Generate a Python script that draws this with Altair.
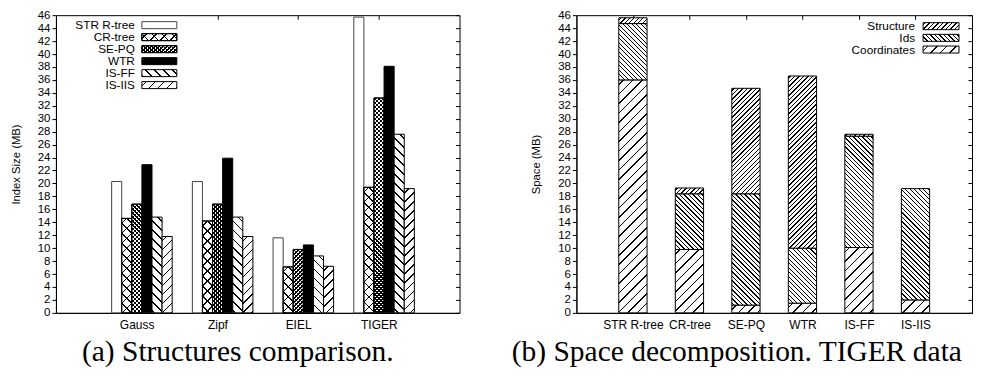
import altair as alt
import pandas as pd
import numpy as np

# ---------------- data: (a) structures comparison ----------------
datasets = ["Gauss", "Zipf", "EIEL", "TIGER"]
structures = ["STR R-tree", "CR-tree", "SE-PQ", "WTR", "IS-FF", "IS-IIS"]
size_str_rtree = [20.3, 20.3, 11.6, 45.7]
size_cr_tree = [14.6, 14.2, 7.1, 19.4]
size_se_pq = [16.8, 16.8, 9.8, 33.2]
size_wtr = [22.9, 23.9, 10.5, 38.1]
size_is_ff = [14.8, 14.8, 8.8, 27.6]
size_is_iis = [11.8, 11.8, 7.2, 19.2]

# ---------------- data: (b) space decomposition (TIGER) ----------------
b_structures = ["STR R-tree", "CR-tree", "SE-PQ", "WTR", "IS-FF", "IS-IIS"]
components = ["Coordinates", "Ids", "Structure"]
space_coordinates = [36.0, 9.8, 1.2, 1.5, 10.1, 2.0]
space_ids = [8.7, 8.6, 17.2, 8.5, 17.2, 17.2]
space_structure = [0.9, 0.9, 16.3, 26.6, 0.3, 0.0]

y_ticks = list(range(0, 47, 2))
caption_a = "(a) Structures comparison."
caption_b = "(b) Space decomposition. TIGER dataset."

# ---------------- layout / style ----------------
FONT = "Liberation Sans"
SERIF = "Liberation Serif"
AW, AH = 404, 298
BW, BH = 396, 298
YMAX = 46
BAR_A, OFF_A = 0.125, -0.31
BAR_B = 0.5
CAP_SIZE = 29.5
CAP_Y = 346


def grad(W, H, P, sw, direction, fg="black", bg="white"):
    """Linear gradient emulating 45-degree hatch lines inside a W x H box."""
    S = W + H
    stops = [(0.0, bg)]
    s = P / 2 - P * np.ceil((P / 2 + sw / 2) / P)
    while s - sw / 2 < S:
        a = max(s - sw / 2, 0.0) / S
        b = min(s + sw / 2, S) / S
        if b > 0 and a < 1:
            stops += [(a, bg), (a, fg), (b, fg), (b, bg)]
        s += P
    stops.append((1.0, bg))
    k = S / (W * W + H * H)
    if direction == "fwd":
        x1, y1, x2, y2 = 0.0, 0.0, k * W, k * H
    else:
        x1, y1, x2, y2 = 1.0, 0.0, 1.0 - k * W, k * H
    return {"gradient": "linear", "x1": round(x1, 6), "y1": round(y1, 6),
            "x2": round(x2, 6), "y2": round(y2, 6),
            "stops": [{"offset": round(min(max(o, 0), 1), 6), "color": c} for o, c in stops]}


PATTERNS = {
    "STR R-tree": [("solid", "white")],
    "CR-tree": [("fwd", 10, 1.5, "white"), ("bwd", 10, 1.5, "transparent")],
    "SE-PQ": [("fwd", 4, 1.6, "white"), ("bwd", 4, 1.6, "transparent")],
    "WTR": [("solid", "black")],
    "IS-FF": [("bwd", 9, 1.5, "white")],
    "IS-IIS": [("fwd", 9, 1.5, "white")],
    "Coordinates": [("fwd", 9.5, 1.5, "white")],
    "Ids": [("bwd", 4.5, 1.4, "white")],
    "Structure": [("fwd", 4.5, 1.4, "white")],
}


def fills(name, W, H):
    out = []
    for p in PATTERNS[name]:
        if p[0] == "solid":
            out.append(p[1])
        else:
            out.append(grad(W, H, p[1], p[2], p[0], bg=p[3]))
    return out


def stroke_of(name):
    return "#444" if name == "STR R-tree" else "black"


one = alt.Data(values=[{"k": 1}])

# ================= panel (a) =================
vals_a = [size_str_rtree, size_cr_tree, size_se_pq, size_wtr, size_is_ff, size_is_iis]
rows = []
for i, d in enumerate(datasets):
    for j, s in enumerate(structures):
        x0 = i + OFF_A + j * BAR_A
        rows.append({"idx": len(rows), "dataset": d, "structure": s,
                     "x0": x0, "x1": x0 + BAR_A, "y0": 0.0, "y1": vals_a[j][i]})
df_a = pd.DataFrame(rows)

xs_a = alt.Scale(domain=[-1, len(datasets)], nice=False, zero=False)
ys = alt.Scale(domain=[0, YMAX], nice=False, zero=True)

label_expr_a = "[" + ",".join(f"'{d}'" for d in datasets) + "][datum.value]"
ax_left_a = alt.Axis(orient="left", values=y_ticks, title="Index Size (MB)", titlePadding=16,
                     titleFont=FONT, titleFontSize=11.3, titleFontWeight="normal", titleColor="black",
                     labelFont=FONT, labelFontSize=11.5, labelColor="black", labelPadding=2,
                     tickSize=4, tickColor="black", domainColor="black", grid=False)
ax_bottom_a = alt.Axis(orient="bottom", values=list(range(len(datasets))), labelExpr=label_expr_a,
                       ticks=False, tickSize=0, labelPadding=7, labelFont=FONT, labelFontSize=12,
                       labelColor="black", domainColor="black", title=None, grid=False)
ax_right = alt.Axis(orient="right", values=y_ticks, labels=False, domain=False, tickSize=4, offset=-4,
                    tickColor="black", title=None, grid=False)
ax_top_a = alt.Axis(orient="top", values=[1, 2, 3], labels=False, domain=False, tickSize=4, offset=-4,
                    tickColor="black", title=None, grid=False)

px_a = AW / (len(datasets) + 1)
layers_a = [
    alt.Chart(df_a).mark_point(opacity=0).encode(
        x=alt.X("x0:Q", scale=xs_a, axis=ax_bottom_a), y=alt.Y("y1:Q", scale=ys, axis=ax_left_a)),
    alt.Chart(df_a).mark_point(opacity=0).encode(
        x=alt.X("x0:Q", scale=xs_a, axis=ax_top_a), y=alt.Y("y1:Q", scale=ys, axis=ax_right)),
]
for r in rows:
    W = BAR_A * px_a
    H = r["y1"] * AH / YMAX
    for f in fills(r["structure"], W, H):
        layers_a.append(
            alt.Chart(df_a).transform_filter(alt.datum.idx == r["idx"]).mark_rect(
                fill=f, stroke=stroke_of(r["structure"]), strokeWidth=1).encode(
                x=alt.X("x0:Q", scale=xs_a, axis=None), x2="x1",
                y=alt.Y("y1:Q", scale=ys, axis=None), y2="y0"))

leg_a = pd.DataFrame({"name": structures, "row": list(range(len(structures)))})
for j, s in enumerate(structures):
    yc = 10 + 12 * j
    for f in fills(s, 35, 7):
        layers_a.append(
            alt.Chart(leg_a).transform_filter(alt.datum.row == j).mark_rect(
                fill=f, stroke=stroke_of(s), strokeWidth=1).encode(
                x=alt.value(86), x2=alt.value(121), y=alt.value(yc - 3.5), y2=alt.value(yc + 3.5)))
    layers_a.append(
        alt.Chart(leg_a).transform_filter(alt.datum.row == j).mark_text(
            align="right", baseline="middle", font=FONT, fontSize=11.8, color="black").encode(
            x=alt.value(79), y=alt.value(yc), text="name:N"))

layers_a.append(alt.Chart(one).mark_text(
    text=caption_a, font=SERIF, fontSize=CAP_SIZE, align="center", baseline="alphabetic", color="black").encode(
    x=alt.value(182), y=alt.value(CAP_Y)))

panel_a = alt.layer(*layers_a).properties(width=AW, height=AH).resolve_axis(x="independent", y="independent")

# ================= panel (b) =================
comp_vals = {"Coordinates": space_coordinates, "Ids": space_ids, "Structure": space_structure}
rows_b = []
for i, s in enumerate(b_structures):
    base = 0.0
    for c in components:
        v = comp_vals[c][i]
        if v > 0:
            rows_b.append({"idx": len(rows_b), "structure": s, "component": c,
                           "x0": i - BAR_B / 2, "x1": i + BAR_B / 2, "y0": base, "y1": base + v})
        base += v
df_b = pd.DataFrame(rows_b)

xs_b = alt.Scale(domain=[-1, len(b_structures)], nice=False, zero=False)
label_expr_b = "[" + ",".join(f"'{d}'" for d in b_structures) + "][datum.value]"
ax_left_b = alt.Axis(orient="left", values=y_ticks, title="Space (MB)", titlePadding=16,
                     titleFont=FONT, titleFontSize=11.3, titleFontWeight="normal", titleColor="black",
                     labelFont=FONT, labelFontSize=11.5, labelColor="black", labelPadding=2,
                     tickSize=4, tickColor="black", domainColor="black", grid=False)
ax_bottom_b = alt.Axis(orient="bottom", values=list(range(len(b_structures))), labelExpr=label_expr_b,
                       ticks=False, tickSize=0, labelPadding=7, labelFont=FONT, labelFontSize=12,
                       labelColor="black", domainColor="black", title=None, grid=False)
ax_top_b = alt.Axis(orient="top", values=list(range(len(b_structures))), labels=False, domain=False,
                    tickSize=4, offset=-4, tickColor="black", title=None, grid=False)

px_b = BW / (len(b_structures) + 1)
layers_b = [
    alt.Chart(df_b).mark_point(opacity=0).encode(
        x=alt.X("x0:Q", scale=xs_b, axis=ax_bottom_b), y=alt.Y("y1:Q", scale=ys, axis=ax_left_b)),
    alt.Chart(df_b).mark_point(opacity=0).encode(
        x=alt.X("x0:Q", scale=xs_b, axis=ax_top_b), y=alt.Y("y1:Q", scale=ys, axis=ax_right)),
]
for r in rows_b:
    W = BAR_B * px_b
    H = (r["y1"] - r["y0"]) * BH / YMAX
    for f in fills(r["component"], W, H):
        layers_b.append(
            alt.Chart(df_b).transform_filter(alt.datum.idx == r["idx"]).mark_rect(
                fill=f, stroke="black", strokeWidth=1).encode(
                x=alt.X("x0:Q", scale=xs_b, axis=None), x2="x1",
                y=alt.Y("y1:Q", scale=ys, axis=None), y2="y0"))

legend_b = ["Structure", "Ids", "Coordinates"]
leg_b = pd.DataFrame({"name": legend_b, "row": list(range(len(legend_b)))})
for j, s in enumerate(legend_b):
    yc = 11 + 11.7 * j
    for f in fills(s, 36, 7):
        layers_b.append(
            alt.Chart(leg_b).transform_filter(alt.datum.row == j).mark_rect(
                fill=f, stroke="black", strokeWidth=1).encode(
                x=alt.value(BW - 49), x2=alt.value(BW - 13), y=alt.value(yc - 3.5), y2=alt.value(yc + 3.5)))
    layers_b.append(
        alt.Chart(leg_b).transform_filter(alt.datum.row == j).mark_text(
            align="right", baseline="middle", font=FONT, fontSize=11.8, color="black").encode(
            x=alt.value(BW - 57), y=alt.value(yc), text="name:N"))

layers_b.append(alt.Chart(one).mark_text(
    text=caption_b, font=SERIF, fontSize=CAP_SIZE, align="left", baseline="alphabetic", color="black",
    limit=462, ellipsis="\u200b").encode(x=alt.value(-64.7), y=alt.value(CAP_Y)))

panel_b = alt.layer(*layers_b).properties(width=BW, height=BH).resolve_axis(x="independent", y="independent")

chart = alt.hconcat(panel_a, panel_b, spacing=50).properties(
    padding={"left": 1, "top": 0, "right": 0, "bottom": 0}
).configure_view(stroke="black", strokeWidth=1)

chart.save("out.html", embed_options={"renderer": "svg", "actions": False})
